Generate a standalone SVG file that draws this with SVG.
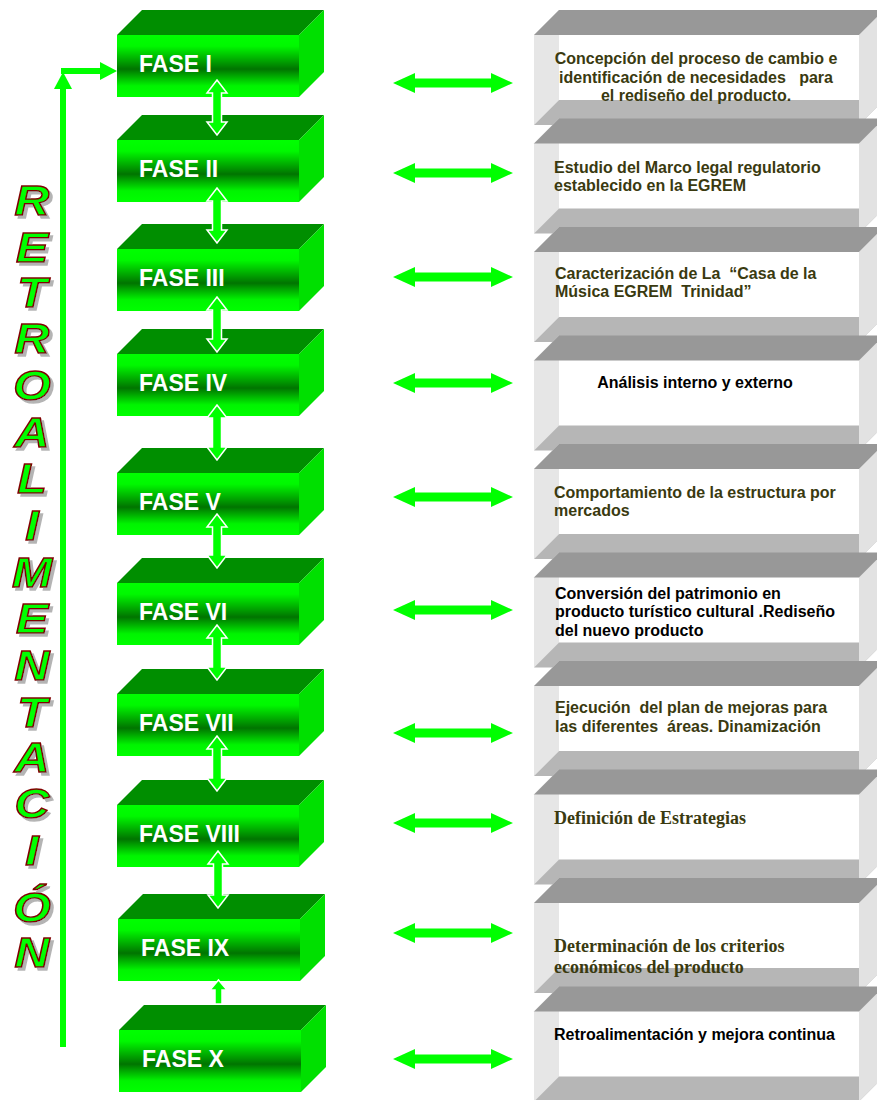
<svg xmlns="http://www.w3.org/2000/svg" xmlns:xlink="http://www.w3.org/1999/xlink" width="877" height="1100" viewBox="0 0 877 1100">
<style>
.ph{font-family:"Liberation Sans",Arial,sans-serif;font-weight:bold;font-size:23px;fill:#ffffff}
.ds{font-family:"Liberation Sans",Arial,sans-serif;font-weight:bold;font-size:16px;fill:#3a3a10}
.dk{fill:#000000}
.sf{font-family:"Liberation Serif","Times New Roman",serif;font-weight:bold;font-size:18px;fill:#3a3a10}
.lt{font-family:"Liberation Sans",Arial,sans-serif;font-weight:bold;font-style:italic;font-size:42px;fill:#00ff00;stroke:#800000;stroke-width:1.4;text-anchor:middle}
.ha{fill:#00ff00}
.va{fill:#00ff00;stroke:#ffffff;stroke-width:1.5;stroke-linejoin:miter}
</style>
<defs>
<linearGradient id="gFront" x1="0" y1="0" x2="0" y2="1">
<stop offset="0" stop-color="#00ff00"/>
<stop offset="0.18" stop-color="#00f800"/>
<stop offset="0.55" stop-color="#007400"/>
<stop offset="0.82" stop-color="#00f400"/>
<stop offset="1" stop-color="#00ff00"/>
</linearGradient>
<filter id="shadow" x="-30%" y="-30%" width="170%" height="170%">
<feOffset in="SourceAlpha" dx="3" dy="3" result="off"/>
<feFlood flood-color="#b4b4b4"/>
<feComposite in2="off" operator="in" result="sh"/>
<feMerge><feMergeNode in="sh"/><feMergeNode in="SourceGraphic"/></feMerge>
</filter>
<g id="greenBox">
<polygon points="0,0 25,-25 207,-25 182,0" fill="#008e00"/>
<polygon points="182,0 207,-25 207,37 182,62" fill="#00e000"/>
<rect x="0" y="0" width="182" height="62" fill="url(#gFront)"/>
</g>
<g id="grayBox">
<polygon points="0,0 25,-25 25,65 0,90" fill="#e6e6e6"/>
<polygon points="0,90 25,65 350,65 325,90" fill="#b6b6b6"/>
<polygon points="325,0 350,-25 350,65 325,90" fill="#e2e2e2"/>
<polygon points="0,0 25,-25 350,-25 325,0" fill="#989898"/>
</g>
<polygon id="hArrow" points="393,0 415,-10 415,-4.5 491,-4.5 491,-10 513,0 491,10 491,4.5 415,4.5 415,10"/>
</defs>

<g id="retroalimentacion" filter="url(#shadow)">
<g transform="translate(32,0) scale(1.15,1)">
<text class="lt" x="0" y="215">R</text><text class="lt" x="0" y="262">E</text><text class="lt" x="0" y="307">T</text><text class="lt" x="0" y="353">R</text><text class="lt" x="0" y="400">O</text><text class="lt" x="0" y="447">A</text><text class="lt" x="0" y="493">L</text><text class="lt" x="0" y="540">I</text><text class="lt" x="0" y="587">M</text><text class="lt" x="0" y="633">E</text><text class="lt" x="0" y="680">N</text><text class="lt" x="0" y="727">T</text><text class="lt" x="0" y="772">A</text><text class="lt" x="0" y="818">C</text><text class="lt" x="0" y="865">I</text><text class="lt" x="0" y="922">Ó</text><text class="lt" x="0" y="967">N</text>
</g>
</g>

<g id="fase1"><use xlink:href="#greenBox" href="#greenBox" x="117" y="35"/><text class="ph" x="139" y="72">FASE I</text></g>
<g id="fase2"><use xlink:href="#greenBox" href="#greenBox" x="117" y="140"/><text class="ph" x="139" y="177">FASE II</text></g>
<g id="fase3"><use xlink:href="#greenBox" href="#greenBox" x="117" y="249"/><text class="ph" x="139" y="286">FASE III</text></g>
<g id="fase4"><use xlink:href="#greenBox" href="#greenBox" x="117" y="354"/><text class="ph" x="139" y="391">FASE IV</text></g>
<g id="fase5"><use xlink:href="#greenBox" href="#greenBox" x="117" y="473"/><text class="ph" x="139" y="510">FASE V</text></g>
<g id="fase6"><use xlink:href="#greenBox" href="#greenBox" x="117" y="583"/><text class="ph" x="139" y="620">FASE VI</text></g>
<g id="fase7"><use xlink:href="#greenBox" href="#greenBox" x="117" y="694"/><text class="ph" x="139" y="731">FASE VII</text></g>
<g id="fase8"><use xlink:href="#greenBox" href="#greenBox" x="117" y="805"/><text class="ph" x="139" y="842">FASE VIII</text></g>
<g id="fase9"><use xlink:href="#greenBox" href="#greenBox" x="118" y="919"/><text class="ph" x="141" y="956">FASE IX</text></g>
<g id="fase10"><use xlink:href="#greenBox" href="#greenBox" x="119" y="1030"/><text class="ph" x="142" y="1067">FASE X</text></g>

<g id="desc1"><use xlink:href="#grayBox" href="#grayBox" x="534" y="35"/>
<text class="ds" text-anchor="middle" xml:space="preserve"><tspan x="696" y="64">Concepción del proceso de cambio e</tspan><tspan x="696" y="83">identificación de necesidades   para</tspan><tspan x="696" y="101">el rediseño del producto.</tspan></text></g>
<g id="desc2"><use xlink:href="#grayBox" href="#grayBox" x="534" y="143.5"/>
<text class="ds"><tspan x="554" y="173">Estudio del Marco legal regulatorio</tspan><tspan x="554" y="191">establecido en la EGREM</tspan></text></g>
<g id="desc3"><use xlink:href="#grayBox" href="#grayBox" x="534" y="252"/>
<text class="ds" xml:space="preserve"><tspan x="555" y="279">Caracterización de La  “Casa de la</tspan><tspan x="555" y="297">Música EGREM  Trinidad”</tspan></text></g>
<g id="desc4"><use xlink:href="#grayBox" href="#grayBox" x="534" y="360.5"/>
<text class="ds dk" text-anchor="middle" x="695" y="388">Análisis interno y externo</text></g>
<g id="desc5"><use xlink:href="#grayBox" href="#grayBox" x="534" y="469"/>
<text class="ds"><tspan x="554" y="498">Comportamiento de la estructura por</tspan><tspan x="554" y="516">mercados</tspan></text></g>
<g id="desc6"><use xlink:href="#grayBox" href="#grayBox" x="534" y="577.5"/>
<text class="ds dk"><tspan x="555" y="599">Conversión del patrimonio en</tspan><tspan x="555" y="617">producto turístico cultural .Rediseño</tspan><tspan x="555" y="636">del nuevo producto</tspan></text></g>
<g id="desc7"><use xlink:href="#grayBox" href="#grayBox" x="534" y="686"/>
<text class="ds" xml:space="preserve"><tspan x="555" y="713">Ejecución  del plan de mejoras para</tspan><tspan x="555" y="732">las diferentes  áreas. Dinamización</tspan></text></g>
<g id="desc8"><use xlink:href="#grayBox" href="#grayBox" x="534" y="794.5"/>
<text class="sf" x="554" y="824">Definición de Estrategias</text></g>
<g id="desc9"><use xlink:href="#grayBox" href="#grayBox" x="534" y="903"/>
<text class="sf"><tspan x="554" y="952">Determinación de los criterios</tspan><tspan x="554" y="973">económicos del producto</tspan></text></g>
<g id="desc10"><use xlink:href="#grayBox" href="#grayBox" x="534" y="1011.5"/>
<text class="ds dk" x="554" y="1040">Retroalimentación y mejora continua</text></g>

<g id="connectors">
<use class="ha" xlink:href="#hArrow" href="#hArrow" y="83"/>
<use class="ha" xlink:href="#hArrow" href="#hArrow" y="173"/>
<use class="ha" xlink:href="#hArrow" href="#hArrow" y="277"/>
<use class="ha" xlink:href="#hArrow" href="#hArrow" y="383"/>
<use class="ha" xlink:href="#hArrow" href="#hArrow" y="497"/>
<use class="ha" xlink:href="#hArrow" href="#hArrow" y="610"/>
<use class="ha" xlink:href="#hArrow" href="#hArrow" y="733"/>
<use class="ha" xlink:href="#hArrow" href="#hArrow" y="823"/>
<use class="ha" xlink:href="#hArrow" href="#hArrow" y="933"/>
<use class="ha" xlink:href="#hArrow" href="#hArrow" y="1059"/>
<polygon class="va" points="217,80 227,93 221.5,93 221.5,122 227,122 217,135 207,122 212.5,122 212.5,93 207,93"/>
<polygon class="va" points="217,188 227,201 221.5,201 221.5,230 227,230 217,243 207,230 212.5,230 212.5,201 207,201"/>
<polygon class="va" points="217,297 227,310 221.5,310 221.5,339 227,339 217,352 207,339 212.5,339 212.5,310 207,310"/>
<polygon class="va" points="217,405 227,418 221.5,418 221.5,447 227,447 217,460 207,447 212.5,447 212.5,418 207,418"/>
<polygon class="va" points="217,514 227,527 221.5,527 221.5,555 227,555 217,568 207,555 212.5,555 212.5,527 207,527"/>
<polygon class="va" points="217,625 227,638 221.5,638 221.5,667 227,667 217,680 207,667 212.5,667 212.5,638 207,638"/>
<polygon class="va" points="217,736 227,749 221.5,749 221.5,778 227,778 217,791 207,778 212.5,778 212.5,749 207,749"/>
<polygon class="va" points="218,851 228,864 222.5,864 222.5,895 228,895 218,908 208,895 213.5,895 213.5,864 208,864"/>
<polygon class="va" points="218.5,980 227,990 222,990 222,1004 215,1004 215,990 210,990"/>
<rect class="ha" x="60" y="88" width="6" height="959"/>
<polygon class="ha" points="54,89 63,72 72,89"/>
<rect class="ha" x="61" y="68" width="40" height="6"/>
<polygon class="ha" points="100,62 117,71 100,80"/>
</g>
</svg>
